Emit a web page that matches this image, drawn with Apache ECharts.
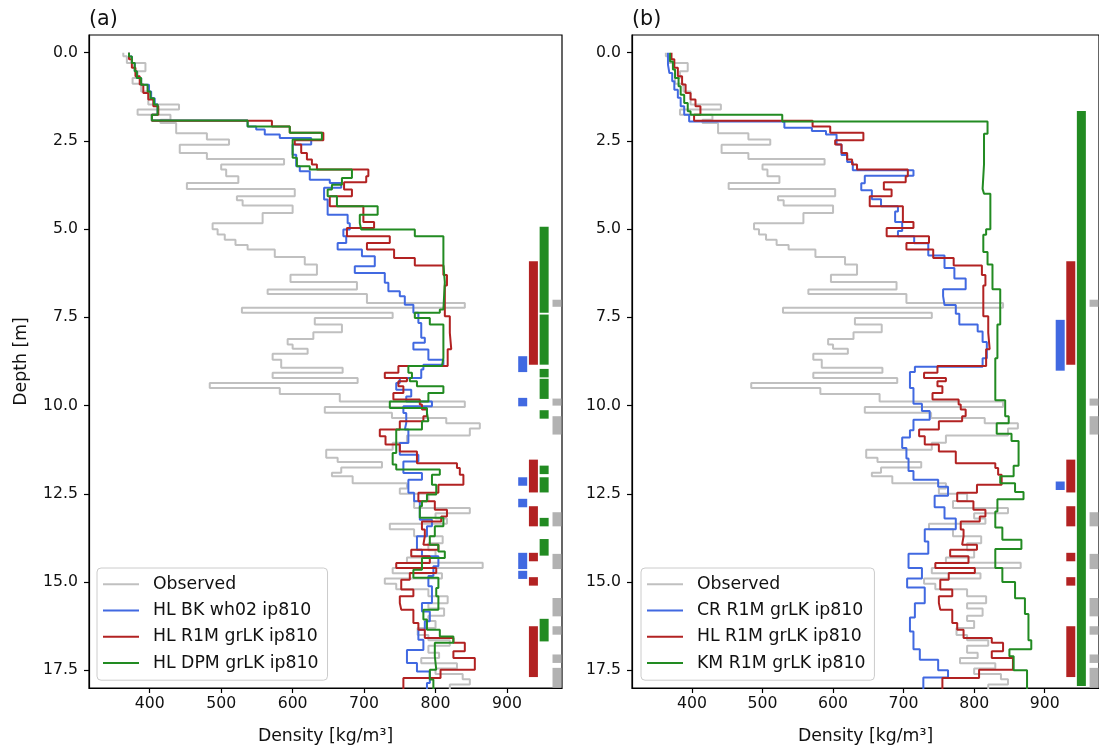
<!DOCTYPE html>
<html>
<head>
<meta charset="utf-8">
<script src="https://cdn.jsdelivr.net/npm/echarts@6/dist/echarts.min.js"></script>
<style>
html,body{margin:0;padding:0;background:#fff;}
#chart{width:1099px;height:752px;}
</style>
</head>
<body>
<div id="chart"></div>
<script>
// ---------------- DATA ----------------
// layers: [top depth (m), density (kg/m3)] ; each layer ends at next layer's top
const profileBottom = 18.05;

const observed = [[0,363],[0.1,368],[0.29,394],[0.53,383],[0.72,376],[0.88,388],[1.1,398],[1.47,441],[1.61,383],[1.76,429],[1.9,415],[1.99,437],[2.28,480],[2.46,511],[2.61,442],[2.84,480],[3.01,588],[3.17,500],[3.31,507],[3.5,524],[3.69,452],[3.86,603],[4.07,522],[4.18,530],[4.33,600],[4.54,558],[4.83,488],[5.0,495],[5.15,505],[5.3,520],[5.45,537],[5.58,575],[5.79,617],[6.0,634],[6.29,597],[6.5,690],[6.71,565],[6.84,704],[7.09,841],[7.23,529],[7.37,740],[7.52,631],[7.7,669],[7.92,629],[8.11,593],[8.27,600],[8.39,621],[8.53,572],[8.7,584],[8.93,670],[9.07,572],[9.22,691],[9.36,484],[9.5,582],[9.67,666],[9.88,841],[10.04,645],[10.2,739],[10.35,815],[10.5,862],[10.65,848],[10.85,760],[11.05,740],[11.25,647],[11.48,663],[11.6,725],[11.75,668],[11.9,655],[12.0,684],[12.2,760],[12.35,750],[12.5,790],[12.7,770],[12.9,848],[13.05,800],[13.2,816],[13.35,736],[13.5,770],[13.7,810],[13.9,790],[14.1,800],[14.3,760],[14.45,866],[14.6,740],[14.75,809],[14.9,729],[15.05,745],[15.2,790],[15.4,817],[15.6,790],[15.75,812],[15.95,790],[16.1,800],[16.3,775],[16.5,790],[16.65,820],[16.8,790],[17.0,805],[17.15,780],[17.3,830],[17.45,800],[17.6,838],[17.75,848],[17.9,820]];

const hlBkWh02 = [[0,371],[0.11,375],[0.29,379],[0.53,382],[0.72,388],[0.91,399],[1.1,402],[1.29,407],[1.47,411],[1.76,403],[1.92,537],[2.09,549],[2.18,561],[2.32,582],[2.42,626],[2.6,600],[2.89,605],[3.22,610],[3.36,624],[3.6,652],[3.69,668],[3.83,644],[4.16,649],[4.59,677],[4.83,680],[5.01,671],[5.2,675],[5.39,663],[5.58,697],[5.77,715],[6.05,687],[6.24,729],[6.52,734],[6.76,750],[6.9,757],[7.14,769],[7.37,776],[7.66,780],[8.08,785],[8.22,769],[8.41,790],[8.7,811],[8.84,783],[8.98,780],[9.22,750],[9.36,745],[9.55,766],[9.74,759],[9.88,795],[10.02,755],[10.21,759],[10.49,757],[10.68,762],[11.06,750],[11.39,776],[11.58,755],[11.91,781],[12.1,762],[12.47,770],[12.71,778],[13.23,795],[13.42,788],[13.7,774],[14.08,781],[14.27,804],[14.55,797],[14.83,790],[15.12,795],[15.59,781],[15.83,792],[16.11,785],[16.35,776],[16.63,783],[16.92,760],[17.29,774],[17.53,792],[17.86,788]];

const hlR1m = [[0,371],[0.19,375],[0.43,380],[0.67,386],[0.9,391],[1.14,398],[1.33,405],[1.52,412],[1.76,403],[1.93,571],[2.09,596],[2.27,643],[2.48,603],[2.6,612],[2.84,620],[3.03,627],[3.17,634],[3.31,706],[3.5,703],[3.67,672],[3.88,683],[4.07,652],[4.35,699],[4.8,714],[4.97,676],[5.2,736],[5.39,704],[5.58,742],[5.82,771],[6.03,811],[6.3,816],[6.6,813],[7.47,820],[7.94,822],[8.4,817],[8.88,748],[9.07,729],[9.22,760],[9.31,748],[9.45,755],[9.64,741],[9.83,778],[9.97,781],[10.11,788],[10.3,783],[10.44,750],[10.68,722],[10.87,730],[11.1,750],[11.3,774],[11.63,830],[11.77,834],[11.96,839],[12.24,804],[12.47,776],[12.71,799],[12.95,816],[13.14,808],[13.28,781],[13.51,785],[13.7,783],[13.94,804],[14.08,766],[14.27,792],[14.46,745],[14.6,801],[14.74,764],[14.93,752],[15.21,769],[15.4,750],[15.59,752],[15.78,769],[16.16,776],[16.35,785],[16.58,825],[16.72,841],[16.96,825],[17.15,855],[17.48,807],[17.72,755]];

const hlDpm = [[0,371],[0.11,375],[0.29,379],[0.53,382],[0.72,388],[0.91,397],[1.1,401],[1.29,406],[1.47,411],[1.76,403],[1.92,537],[2.09,596],[2.27,641],[2.46,600],[2.98,606],[3.22,624],[3.31,683],[3.55,669],[3.74,655],[3.88,649],[4.07,662],[4.35,719],[4.59,694],[4.83,696],[5.01,771],[5.2,811],[6.0,813],[6.5,811],[7.28,806],[7.37,771],[7.52,792],[7.7,811],[8.65,809],[8.88,762],[9.07,767],[9.22,764],[9.31,774],[9.45,811],[9.64,790],[9.88,736],[10.07,788],[10.21,790],[10.44,781],[10.68,745],[11.34,740],[11.67,745],[11.81,806],[11.96,795],[12.24,801],[12.52,788],[12.71,781],[12.85,778],[13.18,811],[13.42,799],[13.7,792],[13.94,804],[14.13,813],[14.32,781],[14.65,769],[14.88,804],[15.17,801],[15.4,804],[15.78,783],[16.06,788],[16.35,806],[16.54,825],[16.72,799],[17.1,801],[17.48,792],[17.76,797]];

const crR1m = [[0,366],[0.34,368],[0.58,372],[0.81,375],[1.05,380],[1.28,384],[1.52,389],[1.76,396],[1.95,531],[2.13,570],[2.22,590],[2.32,605],[2.6,612],[2.9,620],[3.1,628],[3.33,714],[3.49,645],[3.7,640],[3.9,655],[4.15,668],[4.35,692],[4.5,688],[4.8,698],[5.05,692],[5.2,715],[5.4,735],[5.75,758],[6.1,772],[6.4,788],[6.7,756],[6.9,758],[7.15,774],[7.4,779],[7.7,805],[7.9,812],[8.2,818],[8.66,812],[8.9,716],[9.05,709],[9.5,714],[9.95,726],[10.15,737],[10.4,714],[10.7,709],[10.9,698],[11.2,704],[11.5,707],[11.85,714],[12.1,749],[12.3,763],[12.55,744],[12.88,758],[13.2,774],[13.5,730],[13.85,735],[14.2,707],[14.6,726],[14.9,705],[15.15,730],[15.6,716],[16.0,709],[16.4,714],[16.9,723],[17.2,749],[17.5,763],[17.7,728]];

const kmR1m = [[0,369],[0.25,373],[0.48,376],[0.72,381],[0.95,384],[1.19,389],[1.43,394],[1.66,398],[1.76,528],[1.95,819],[2.3,814],[3.16,812],[3.86,814],[4.0,823],[5.0,817],[5.16,813],[5.65,819],[6.0,826],[6.7,837],[7.7,833],[8.66,830],[9.85,844],[10.3,849],[10.5,832],[10.8,853],[11.0,863],[11.7,856],[12.0,837],[12.2,858],[12.45,870],[12.65,833],[13.0,830],[13.45,840],[13.8,867],[14.06,830],[14.6,840],[15.0,858],[15.46,872],[15.9,877],[16.65,881],[16.9,850],[17.1,856],[17.5,875]];

// marker columns: [top depth, bottom depth]
const iceObs = [[7.0,7.2],[9.8,10.0],[10.3,10.82],[13.02,13.42],[14.2,14.63],[15.45,15.97],[16.25,16.49],[17.05,17.29],[17.43,18.05]];
const iceHlBk = [[8.6,9.05],[9.78,10.02],[12.03,12.27],[12.64,12.88],[14.17,14.63],[14.68,14.91]];
const iceHlR1m = [[5.91,8.84],[11.53,12.46],[12.85,13.42],[14.17,14.41],[14.86,15.1],[16.25,17.69]];
const iceHlDpm = [[4.93,7.37],[7.42,8.84],[8.96,9.2],[9.24,9.81],[10.13,10.37],[11.7,11.94],[12.03,12.46],[13.18,13.42],[13.78,14.25],[16.04,16.68]];
const iceCr = [[7.57,9.01],[12.15,12.39]];
const iceKm = [[1.65,17.94]];
const markerColumns = [922, 937, 952, 970]; // density position of the columns (model1, model2, model3, observed)

const xTicks = [400, 500, 600, 700, 800, 900];
const yTicks = [0, 2.5, 5, 7.5, 10, 12.5, 15, 17.5];
const names = {
  obs: 'Observed',
  a: ['HL BK wh02 ip810', 'HL R1M grLK ip810', 'HL DPM grLK ip810'],
  b: ['CR R1M grLK ip810', 'HL R1M grLK ip810', 'KM R1M grLK ip810']
};

// ---------------- CHART ----------------
const FONT = 'DejaVu Sans';
const TXT = '#111';
const FS_TICK = 15.7, FS = 17.3, FS_TITLE = 20.7;
const C = { obs: '#c0c0c0', blue: '#4169e1', red: '#b22222', green: '#228b22', grey: 'rgba(165,165,165,0.85)' };

function steps(layers) {
  const pts = [];
  for (let i = 0; i < layers.length; i++) {
    const top = layers[i][0];
    const bot = i + 1 < layers.length ? layers[i + 1][0] : profileBottom;
    pts.push([layers[i][1], top], [layers[i][1], bot]);
  }
  return pts;
}

function lineSeries(name, layers, color, idx, z) {
  return {
    type: 'line', name, xAxisIndex: idx, yAxisIndex: idx,
    data: steps(layers), showSymbol: false, symbol: 'none',
    lineStyle: { color, width: 2 }, itemStyle: { color },
    animation: false, z, silent: true, clip: true
  };
}

function markerSeries(intervals, xpos, color, idx) {
  return {
    type: 'custom', xAxisIndex: idx, yAxisIndex: idx, clip: true, silent: true, animation: false, z: 3,
    data: intervals.map(iv => [xpos, iv[0], iv[1]]),
    encode: { x: 0, y: [1, 2] },
    renderItem: function (params, api) {
      const p1 = api.coord([api.value(0), api.value(1)]);
      const p2 = api.coord([api.value(0), api.value(2)]);
      return { type: 'rect', shape: { x: p1[0] - 4.5, y: p1[1], width: 9, height: p2[1] - p1[1] }, style: { fill: color } };
    }
  };
}

const grids = [
  { left: 89, top: 35, width: 473, height: 653 },
  { left: 632, top: 35, width: 473, height: 653 }
];

function xAxis(idx) {
  return {
    type: 'value', gridIndex: idx, min: 315, max: 977,
    name: 'Density [kg/m³]', nameLocation: 'middle', nameGap: 40,
    nameTextStyle: { fontFamily: FONT, fontSize: FS, color: TXT },
    axisLine: { show: true, onZero: false, lineStyle: { color: '#000', width: 1.2 } },
    axisTick: { show: true, length: 5, customValues: xTicks, lineStyle: { color: '#000', width: 1.2 } },
    axisLabel: { customValues: xTicks, margin: 8, fontFamily: FONT, fontSize: FS_TICK, color: TXT },
    splitLine: { show: false }
  };
}
function yAxis(idx) {
  const a = {
    type: 'value', gridIndex: idx, min: -0.5, max: 18, inverse: true,
    axisLine: { show: true, onZero: false, lineStyle: { color: '#000', width: 1.2 } },
    axisTick: { show: true, length: 5, customValues: yTicks, lineStyle: { color: '#000', width: 1.2 } },
    axisLabel: { customValues: yTicks, margin: 11, fontFamily: FONT, fontSize: FS_TICK, color: TXT, formatter: v => Number(v).toFixed(1) },
    splitLine: { show: false }
  };
  if (idx === 0) {
    a.name = 'Depth [m]'; a.nameLocation = 'middle'; a.nameGap = 59; a.nameRotate = 90;
    a.nameTextStyle = { fontFamily: FONT, fontSize: FS, color: TXT };
  }
  return a;
}

function legend(left, data) {
  return {
    show: true, orient: 'vertical', left, top: 568, data,
    icon: 'rect', itemWidth: 36, itemHeight: 2, itemGap: 8,
    backgroundColor: 'rgba(255,255,255,0.8)', borderColor: '#cccccc', borderWidth: 1, borderRadius: 4,
    padding: [7, 9, 8, 6],
    textStyle: { fontFamily: FONT, fontSize: FS, color: TXT, lineHeight: 18.3, padding: [0, 0, 0, 9] },
    selectedMode: false
  };
}

const option = {
  backgroundColor: '#fff',
  animation: false,
  title: [
    { text: '(a)', left: 89, top: 9, padding: 0, textStyle: { fontFamily: FONT, fontSize: FS_TITLE, fontWeight: 'normal', color: TXT } },
    { text: '(b)', left: 632, top: 9, padding: 0, textStyle: { fontFamily: FONT, fontSize: FS_TITLE, fontWeight: 'normal', color: TXT } }
  ],
  grid: grids.map(g => Object.assign({ show: true, borderColor: '#000', borderWidth: 1.2, backgroundColor: 'transparent' }, g)),
  xAxis: [xAxis(0), xAxis(1)],
  yAxis: [yAxis(0), yAxis(1)],
  legend: [
    legend(97, [names.obs].concat(names.a)),
    legend(641, [names.obs].concat(names.b))
  ],
  series: [
    lineSeries(names.obs, observed, C.obs, 0, 2),
    lineSeries(names.a[0], hlBkWh02, C.blue, 0, 2),
    lineSeries(names.a[1], hlR1m, C.red, 0, 2),
    lineSeries(names.a[2], hlDpm, C.green, 0, 2),
    markerSeries(iceHlBk, markerColumns[0], C.blue, 0),
    markerSeries(iceHlR1m, markerColumns[1], C.red, 0),
    markerSeries(iceHlDpm, markerColumns[2], C.green, 0),
    markerSeries(iceObs, markerColumns[3], C.grey, 0),

    lineSeries(names.obs, observed, C.obs, 1, 2),
    lineSeries(names.b[0], crR1m, C.blue, 1, 2),
    lineSeries(names.b[1], hlR1m, C.red, 1, 2),
    lineSeries(names.b[2], kmR1m, C.green, 1, 2),
    markerSeries(iceCr, markerColumns[0], C.blue, 1),
    markerSeries(iceHlR1m, markerColumns[1], C.red, 1),
    markerSeries(iceKm, markerColumns[2], C.green, 1),
    markerSeries(iceObs, markerColumns[3], C.grey, 1)
  ]
};

const chart = echarts.init(document.getElementById('chart'), null, { renderer: 'canvas' });
chart.setOption(option);
</script>
</body>
</html>
